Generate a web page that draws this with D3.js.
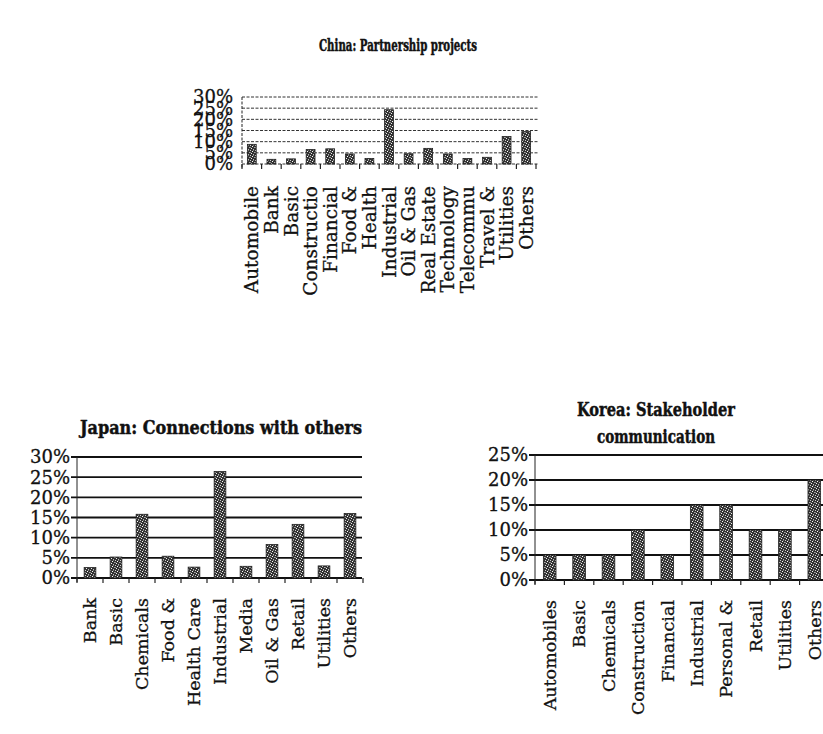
<!DOCTYPE html>
<html>
<head>
<meta charset="utf-8">
<script src="https://cdn.jsdelivr.net/npm/d3@7"></script>
<style>
	body { margin: 0; background: #fff; }
	svg { display: block; }
	text { font-family: "DejaVu Serif", "Liberation Serif", serif; fill: #111; stroke: #111; stroke-width: 0.3; }
</style>
</head>
<body>
<div id="chart"></div>
<script>
// China: Partnership projects
const chinaCategories = ["Automobile", "Bank", "Basic", "Constructio", "Financial", "Food &", "Health",
	"Industrial", "Oil & Gas", "Real Estate", "Technology", "Telecommu", "Travel &", "Utilities", "Others"];
const chinaValues = [8.8, 2.1, 2.3, 6.5, 6.8, 4.5, 2.5, 24.3, 4.6, 7.0, 4.5, 2.5, 3.0, 12.3, 14.5];
const chinaTicks = [0, 5, 10, 15, 20, 25, 30];

// Japan: Connections with others
const japanCategories = ["Bank", "Basic", "Chemicals", "Food &", "Health Care", "Industrial", "Media",
	"Oil & Gas", "Retail", "Utilities", "Others"];
const japanValues = [2.6, 5.2, 15.8, 5.4, 2.7, 26.4, 2.9, 8.3, 13.3, 3.0, 16.0];
const japanTicks = [0, 5, 10, 15, 20, 25, 30];

// Korea: Stakeholder communication
const koreaCategories = ["Automobiles", "Basic", "Chemicals", "Construction", "Financial", "Industrial",
	"Personal &", "Retail", "Utilities", "Others"];
const koreaValues = [5, 5, 5, 10, 5, 15, 15, 10, 10, 20];
const koreaTicks = [0, 5, 10, 15, 20, 25];

const W = 823, H = 734;
const svg = d3.select("#chart").append("svg")
	.attr("width", W)
	.attr("height", H);

// stippled fill like the scanned bars
const defs = svg.append("defs");
const pat = defs.append("pattern")
	.attr("id", "stip")
	.attr("width", 5).attr("height", 5)
	.attr("patternUnits", "userSpaceOnUse");
pat.append("rect").attr("width", 5).attr("height", 5).attr("fill", "#333");
[[0, 0, "#d0d0d0"], [2, 1, "#ffffff"], [4, 2, "#aaa"], [1, 3, "#eee"], [3, 4, "#bbb"], [3, 0, "#777"], [0, 2, "#888"]].forEach(p => {
	pat.append("rect").attr("x", p[0]).attr("y", p[1]).attr("width", 1).attr("height", 1).attr("fill", p[2]);
});

function drawChart(o) {
	const g = svg.append("g");

	const x = d3.scaleBand()
		.domain(o.categories)
		.range([o.left, o.left + o.bandStep * o.categories.length])
		.padding(0);
	const y = d3.scaleLinear()
		.domain([0, o.max])
		.range([o.bottom, o.top]);

	// title, squeezed to the narrow heavy face of the original
	o.title.forEach((t, i) => {
		g.append("text")
			.attr("x", o.titleX)
			.attr("y", o.titleY + i * o.titleLead)
			.attr("text-anchor", "middle")
			.attr("textLength", o.titleWidth[i])
			.attr("lengthAdjust", "spacingAndGlyphs")
			.style("font-size", o.titleSize + "px")
			.style("font-weight", "bold")
			.style("stroke-width", 0.5)
			.text(t);
	});

	// grid lines
	g.append("g").selectAll("line")
		.data(o.ticks)
		.join("line")
		.attr("x1", o.left - o.gridOver)
		.attr("x2", o.right)
		.attr("y1", d => y(d))
		.attr("y2", d => y(d))
		.attr("stroke", o.gridColor)
		.attr("stroke-width", o.gridWidth)
		.attr("stroke-dasharray", o.gridDash);

	// y axis line
	g.append("line")
		.attr("x1", o.left).attr("x2", o.left)
		.attr("y1", y(o.max)).attr("y2", o.bottom + 4)
		.attr("stroke", "#222")
		.attr("stroke-width", 1)
		.attr("stroke-dasharray", o.gridDash);

	// y tick labels
	g.append("g").selectAll("text")
		.data(o.ticks)
		.join("text")
		.attr("x", o.labelX)
		.attr("y", d => y(d))
		.attr("dy", "0.36em")
		.attr("text-anchor", "end")
		.style("font-size", o.yFont + "px")
		.text(d => d + "%");

	// x ticks at band edges
	const edges = o.categories.map(c => x(c)).concat([x.range()[1]]);
	g.append("g").selectAll("line")
		.data(edges)
		.join("line")
		.attr("x1", d => d).attr("x2", d => d)
		.attr("y1", o.bottom).attr("y2", o.bottom + 5)
		.attr("stroke", "#222")
		.attr("stroke-width", 1.2);

	// bars
	const bw = x.bandwidth() * o.barFrac;
	g.append("g").selectAll("rect")
		.data(o.values)
		.join("rect")
		.attr("x", (d, i) => x(o.categories[i]) + (x.bandwidth() - bw) / 2)
		.attr("y", d => y(d))
		.attr("width", bw)
		.attr("height", d => o.bottom - y(d))
		.attr("fill", "url(#stip)")
		.attr("stroke", "#222")
		.attr("stroke-width", 0.8);

	// x labels, rotated
	g.append("g").selectAll("text")
		.data(o.categories)
		.join("text")
		.attr("transform", d => `translate(${x(d) + x.bandwidth() / 2},${o.bottom + o.xLabelGap}) rotate(-90)`)
		.attr("dy", "0.36em")
		.attr("text-anchor", "end")
		.style("font-size", o.xFont + "px")
		.text(d => d);
}

drawChart({
	categories: chinaCategories, values: chinaValues, ticks: chinaTicks, max: 30,
	left: 242, right: 538, bandStep: 19.6, top: 97, bottom: 164,
	title: ["China: Partnership projects"], titleWidth: [158], titleX: 398, titleY: 51, titleLead: 0, titleSize: 16,
	gridOver: 0, gridColor: "#333", gridWidth: 1, gridDash: "3 1.5",
	labelX: 233, yFont: 18, xFont: 18.5, xLabelGap: 22, barFrac: 0.45
});

drawChart({
	categories: japanCategories, values: japanValues, ticks: japanTicks, max: 30,
	left: 77, right: 362, bandStep: 26, top: 457, bottom: 578,
	title: ["Japan: Connections with others"], titleWidth: [282], titleX: 221, titleY: 434, titleLead: 0, titleSize: 19,
	gridOver: 6, gridColor: "#111", gridWidth: 1.8, gridDash: null,
	labelX: 70, yFont: 18, xFont: 17.5, xLabelGap: 20, barFrac: 0.45
});

drawChart({
	categories: koreaCategories, values: koreaValues, ticks: koreaTicks, max: 25,
	left: 535, right: 830, bandStep: 29.4, top: 455, bottom: 580,
	title: ["Korea: Stakeholder", "communication"], titleWidth: [158, 118], titleX: 656, titleY: 416, titleLead: 27, titleSize: 18,
	gridOver: 6, gridColor: "#111", gridWidth: 1.8, gridDash: null,
	labelX: 528, yFont: 18, xFont: 17.5, xLabelGap: 20, barFrac: 0.43
});
</script>
</body>
</html>
